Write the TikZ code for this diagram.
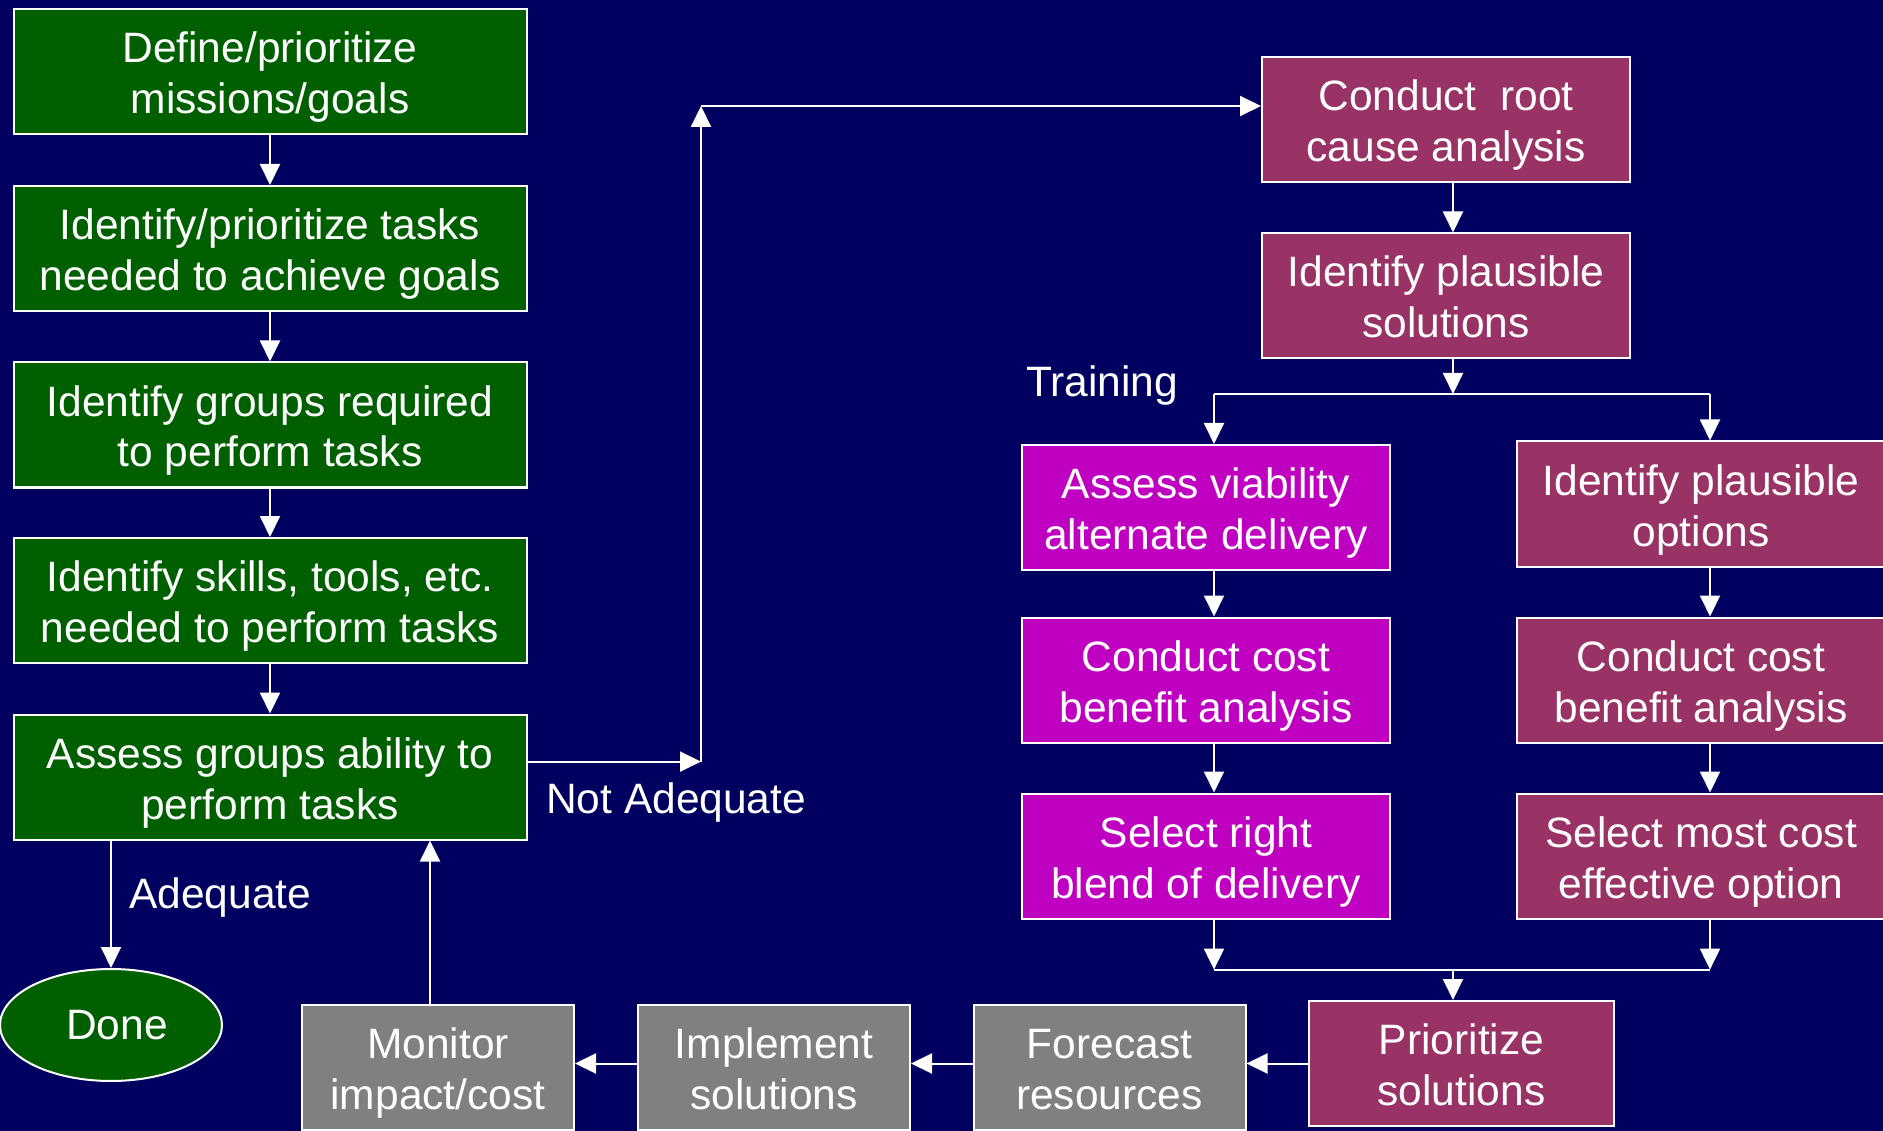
\documentclass[tikz,border=0pt]{standalone}
\usepackage{fontspec}
\setmainfont{Liberation Sans}
\usetikzlibrary{arrows.meta,shapes.geometric}
\definecolor{bgnavy}{HTML}{000060}
\definecolor{boxgreen}{HTML}{006000}
\definecolor{boxmag}{HTML}{C000C0}
\definecolor{boxmaroon}{HTML}{993366}
\definecolor{boxgray}{HTML}{808080}
\newcommand{\topstrut}{\rule{0pt}{44pt}}
\newcommand{\botstrut}{\rule[-11pt]{0pt}{11pt}}
\newcommand{\twolines}[2]{\topstrut#1\\#2\botstrut}
\begin{document}
\begin{tikzpicture}[x=1pt,y=-1pt,
  every node/.style={text=white, font=\fontsize{42.5}{51}\selectfont, align=center},
  box/.style={draw=white, line width=2pt, inner sep=0pt, minimum height=125pt},
  gbox/.style={box, fill=boxgreen, minimum width=513pt},
  mbox/.style={box, fill=boxmag, minimum width=368pt},
  rbox/.style={box, fill=boxmaroon, minimum width=368pt},
  ybox/.style={box, fill=boxgray, minimum width=272pt},
  conn/.style={draw=white, line width=2pt},
  arr/.style={conn, -{Triangle[length=21pt,width=20pt]}},
  lbl/.style={inner sep=0pt}]
\fill[bgnavy] (0,0) rectangle (1883,1131);
\useasboundingbox (0,0) rectangle (1883,1131);

% left column
\node[gbox] (g1) at (270,72) {\twolines{Define/prioritize}{missions/goals}};
\node[gbox] (g2) at (270,248.5) {\twolines{Identify/prioritize tasks}{needed to achieve goals}};
\node[gbox] (g3) at (270,425) {\twolines{Identify groups required}{to perform tasks}};
\node[gbox] (g4) at (270,600.5) {\twolines{Identify skills, tools, etc.}{needed to perform tasks}};
\node[gbox] (g5) at (270,777) {\twolines{Assess groups ability to}{perform tasks}};
\node[draw=white, line width=2pt, fill=boxgreen, ellipse, inner sep=0pt,
      minimum width=222pt, minimum height=112pt] (done) at (111,1025) {\hspace*{12pt}Done};

% right upper
\node[rbox] (rca) at (1446,120) {\twolines{Conduct\ \ root}{cause analysis}};
\node[rbox] (ips) at (1446,296) {\twolines{Identify plausible}{solutions}};

% training column
\node[mbox] (av) at (1206,507.5) {\twolines{Assess viability}{alternate delivery}};
\node[mbox] (cl) at (1206,680) {\twolines{Conduct cost}{benefit analysis}};
\node[mbox] (sr) at (1206,856) {\twolines{Select right}{blend of delivery}};

% options column
\node[rbox] (io) at (1701,504) {\twolines{Identify plausible}{options}};
\node[rbox] (cr) at (1701,680) {\twolines{Conduct cost}{benefit analysis}};
\node[rbox] (sm) at (1701,856) {\twolines{Select most cost}{effective option}};

% bottom row
\node[rbox, minimum width=305pt] (pri) at (1461.5,1063.5) {\twolines{Prioritize}{solutions}};
\node[ybox] (fc) at (1109.5,1067) {\twolines{Forecast}{resources}};
\node[ybox] (imp) at (774,1067) {\twolines{Implement}{solutions}};
\node[ybox] (mon) at (438,1067) {\twolines{Monitor}{impact/cost}};

% labels
\node[lbl, anchor=west] (lade) at (129,898) {Adequate};
\node[lbl, anchor=west] (lnade) at (546,802.5) {Not Adequate};
\node[lbl] (ltr) at (1102,386) {Training};

% helper coordinates
\coordinate (na) at (701,761.6);
\coordinate (up) at (701,106);
\coordinate (bj) at (1453,394);
\coordinate (mj) at (1453,969.6);
\coordinate (lx) at (1214,0);
\coordinate (rx) at (1710,0);
\coordinate (mx) at (430,0);

% left column arrows
\draw[arr] (g1) -- (g2);
\draw[arr] (g2) -- (g3);
\draw[arr] (g3) -- (g4);
\draw[arr] (g4) -- (g5);
\draw[arr] (done.north |- g5.south) -- (done.north);
\draw[arr] (mon.north -| mx) -- (g5.south -| mx);

% not adequate path
\draw[arr] (g5.east |- na) -- (na);
\draw[arr] (na) -- (up);
\draw[arr] (up) -- (rca.west |- up);

% right side
\draw[arr] (rca.south -| bj) -- (ips.north -| bj);
\draw[arr] (ips.south -| bj) -- (bj);
\draw[conn] (bj -| lx) -- (bj -| rx);
\draw[arr] (bj -| lx) -- (av.north -| lx);
\draw[arr] (bj -| rx) -- (io.north -| rx);
\draw[arr] (av.south -| lx) -- (cl.north -| lx);
\draw[arr] (cl.south -| lx) -- (sr.north -| lx);
\draw[arr] (io.south -| rx) -- (cr.north -| rx);
\draw[arr] (cr.south -| rx) -- (sm.north -| rx);
\draw[arr] (sr.south -| lx) -- (mj -| lx);
\draw[arr] (sm.south -| rx) -- (mj -| rx);
\draw[conn] (mj -| lx) -- (mj -| rx);
\draw[arr] (mj) -- (pri.north -| mj);

% bottom row arrows
\draw[arr] (pri.west) -- (fc.east |- pri.west);
\draw[arr] (fc.west |- pri.west) -- (imp.east |- pri.west);
\draw[arr] (imp.west |- pri.west) -- (mon.east |- pri.west);
\end{tikzpicture}
\end{document}
